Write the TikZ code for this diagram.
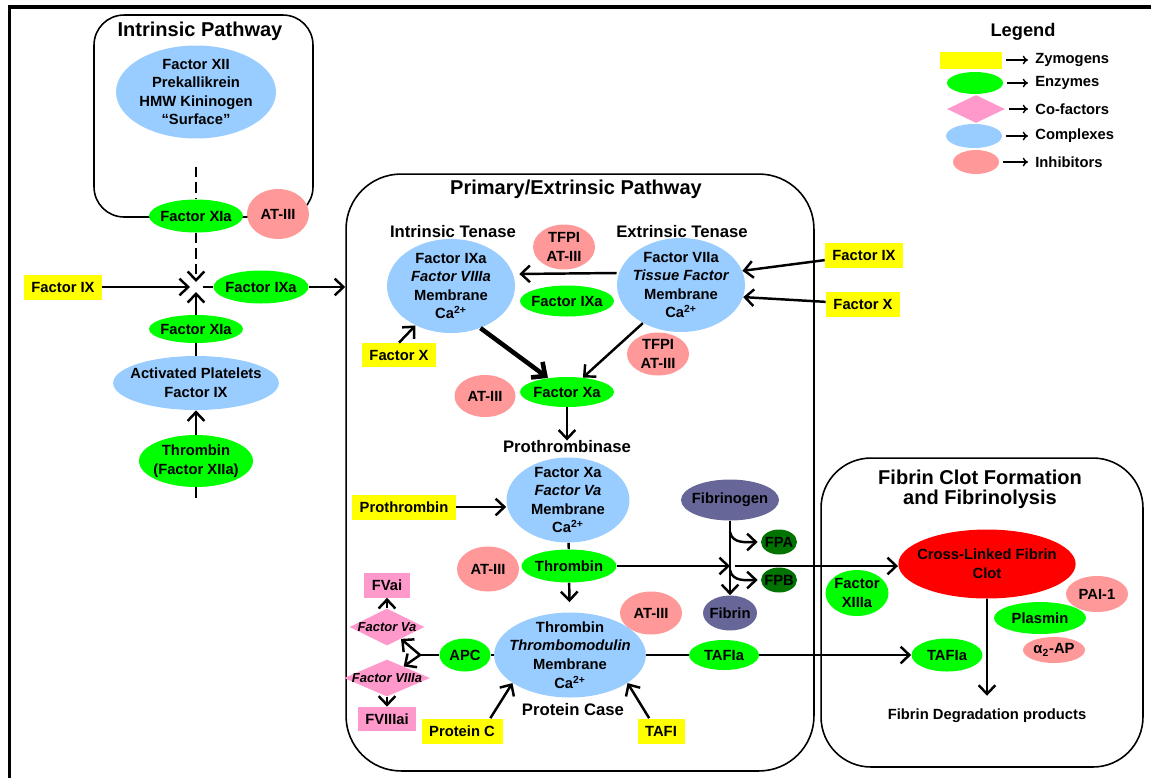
\documentclass[tikz,border=0pt]{standalone}
\usepackage{fontspec}
\setmainfont{Liberation Sans}
\usepackage{tikz}
\usetikzlibrary{arrows.meta, positioning, shapes.geometric}
\definecolor{zymoyellow}{RGB}{255,255,0}
\definecolor{enzgreen}{RGB}{0,255,0}
\definecolor{cofpink}{RGB}{255,153,204}
\definecolor{cplxblue}{RGB}{153,204,255}
\definecolor{inhpink}{RGB}{255,153,153}
\definecolor{fibpurple}{RGB}{102,102,153}
\definecolor{fpgreen}{RGB}{0,115,0}
\definecolor{clotred}{RGB}{255,0,0}

\begin{document}
\begin{tikzpicture}[x=0.02cm, y=-0.02cm,
    every node/.style={font=\fontsize{8.4}{10.6}\selectfont\bfseries, align=center, inner sep=0pt},
    blob/.style={ellipse, inner xsep=-4pt, inner ysep=-2pt},
    zymogen/.style={rectangle, fill=zymoyellow, minimum height=0.5cm},
    enzyme/.style={blob, fill=enzgreen},
    cplx/.style={blob, fill=cplxblue},
    inhib/.style={blob, fill=inhpink},
    fibr/.style={blob, fill=fibpurple},
    fpep/.style={blob, fill=fpgreen, minimum width=0.72cm, minimum height=0.5cm},
    cofactor/.style={diamond, fill=cofpink, font=\fontsize{7.4}{9}\selectfont\bfseries\itshape},
    inact/.style={rectangle, fill=cofpink, minimum height=0.5cm},
    pathbox/.style={rectangle, draw, line width=0.9pt, rounded corners=1cm},
    boxtitle/.style={font=\fontsize{11.4}{11.6}\selectfont\bfseries},
    subtitle/.style={font=\fontsize{9.5}{11}\selectfont\bfseries},
    link/.style={line width=1.4pt},
    arrow/.style={-{Straight Barb[length=5pt, width=9.5pt]}, line width=1.4pt},
    bigarrow/.style={-{Straight Barb[length=6pt, width=11pt]}, line width=2.6pt},
    dashlink/.style={link, dash pattern=on 6pt off 2.8pt},
    dasharrow/.style={arrow, dash pattern=on 6pt off 2.8pt},
    legarrow/.style={-{To[length=3pt, width=5pt]}, line width=0.8pt, shorten <=0.08cm, shorten >=0.14cm}
]
\useasboundingbox (0,0) rectangle (1151,778);
\draw [line width=1.8pt] (9.5,778) -- (9.5,7) -- (1151,7);

\node (intbox) [pathbox, rounded corners=0.6cm, minimum width=4.38cm, minimum height=4.04cm] at (203.5,116) {};
\node (primbox) [pathbox, rounded corners=1.1cm, minimum width=9.36cm, minimum height=11.94cm] at (580,472.5) {};
\node (fibbox) [pathbox, minimum width=6.44cm, minimum height=6.18cm] at (982,612.5) {};

\node (inttitle) [boxtitle] at (200,31) {Intrinsic Pathway};
\node (primtitle) [boxtitle] at (576,189) {Primary/Extrinsic Pathway};
\node (fibtitle) [boxtitle] at (980,489) {Fibrin Clot Formation\\and Fibrinolysis};
\node (legtitle) [font=\fontsize{10.4}{12}\selectfont\bfseries] at (1023,32) {Legend};

\node (contact) [cplx, minimum width=3.2cm, minimum height=1.86cm] at (196,92) {Factor XII\\Prekallikrein\\HMW Kininogen\\“Surface”};
\node (xia1) [enzyme, minimum width=1.88cm, minimum height=0.66cm] at (196,216) {Factor XIa};
\node (atiii1) [inhib, minimum width=1.24cm, minimum height=1cm] at (278,214) {AT-III};
\coordinate (junc) at (196,287);
\node (fix1) [zymogen, minimum width=1.56cm] at (63,287) {Factor IX};
\node (ixa1) [enzyme, minimum width=1.9cm, minimum height=0.66cm] at (261,287) {Factor IXa};
\node (xia2) [enzyme, minimum width=1.88cm, minimum height=0.56cm] at (196,329) {Factor XIa};
\node (platelets) [cplx, minimum width=3.24cm, minimum height=1.08cm] at (196,383) {Activated Platelets\\Factor IX};
\node (thrombin1) [enzyme, minimum width=2.28cm, minimum height=1.04cm] at (196,461) {Thrombin\\(Factor XIIa)};
\coordinate (thrtail) at (196,498);

\draw [dashlink, shorten <=0.56cm] (contact) -- (xia1);
\draw [dasharrow, shorten >=0.1cm] (xia1) -- (junc);
\draw [arrow, shorten >=0.12cm] (fix1) -- (junc);
\draw [link, shorten <=0.14cm] (junc) -- (ixa1);
\draw [arrow] (ixa1) -- (ixa1 -| primbox.west);
\draw [arrow, shorten >=0.1cm] (xia2) -- (junc);
\draw [link] (platelets) -- (xia2);
\draw [arrow] (thrombin1) -- (platelets);
\draw [link] (thrombin1) -- (thrtail);

\node (itlabel) [subtitle] at (453,232) {Intrinsic Tenase};
\node (etlabel) [subtitle] at (682,232) {Extrinsic Tenase};
\node (itenase) [cplx, minimum width=2.56cm, minimum height=1.88cm] at (451,286) {Factor IXa\\\textit{Factor VIIIa}\\Membrane\\Ca\textsuperscript{2+}};
\node (etenase) [cplx, minimum width=2.56cm, minimum height=1.88cm] at (681,285) {Factor VIIa\\\textit{Tissue Factor}\\Membrane\\Ca\textsuperscript{2+}};
\node (tfpi1) [inhib, minimum width=1.24cm, minimum height=0.9cm] at (564,247) {TFPI\\AT-III};
\node (ixa2) [enzyme, minimum width=1.88cm, minimum height=0.62cm] at (567,301) {Factor IXa};
\node (fx1) [zymogen, minimum width=1.48cm, minimum height=0.48cm] at (399,355) {Factor X};
\node (tfpi2) [inhib, minimum width=1.24cm, minimum height=0.86cm] at (658,354) {TFPI\\AT-III};
\node (atiii2) [inhib, minimum width=1.22cm, minimum height=0.84cm] at (485,396) {AT-III};
\node (xa) [enzyme, minimum width=1.88cm, minimum height=0.6cm] at (567,392) {Factor Xa};
\node (ptlabel) [subtitle] at (567,447) {Prothrombinase};
\node (fix2) [zymogen, minimum width=1.56cm] at (864,255) {Factor IX};
\node (fx2) [zymogen, minimum width=1.48cm] at (863,304) {Factor X};

\draw [arrow] (fix2) -- (etenase.13);
\draw [arrow] (fx2) -- (etenase.349);
\draw [arrow, shorten >=0.08cm] ([yshift=0.24cm]etenase.west) -- ([yshift=0.24cm]itenase.east);
\draw [arrow] (fx1.north) -- (itenase.228);
\draw [bigarrow] (itenase.305) -- (xa);
\draw [arrow] (etenase.225) -- (xa);
\draw [arrow] (xa) -- (ptlabel);

\node (proth) [cplx, minimum width=2.46cm, minimum height=1.7cm] at (568,500) {Factor Xa\\\textit{Factor Va}\\Membrane\\Ca\textsuperscript{2+}};
\node (prothrombin) [zymogen, minimum width=2.08cm] at (404,507) {Prothrombin};
\node (thrombin2) [enzyme, minimum width=1.9cm, minimum height=0.66cm] at (569,566) {Thrombin};
\node (atiii3) [inhib, minimum width=1.24cm, minimum height=0.9cm] at (488,569) {AT-III};
\node (fibgen) [fibr, minimum width=1.96cm, minimum height=0.82cm] at (730,500) {Fibrinogen};
\node (fibrin) [fibr, minimum width=1.08cm, minimum height=0.7cm] at (730,613) {Fibrin};
\node (fpa) [fpep] at (779,542) {FPA};
\node (fpb) [fpep] at (779,580) {FPB};
\coordinate (fibjoin) at (thrombin2 -| fibrin);
\coordinate (fpasplit) at (730,532);
\coordinate (fpbsplit) at (730,570);

\node (tmod) [cplx, minimum width=2.94cm, minimum height=1.7cm] at (570,655) {Thrombin\\\textit{Thrombomodulin}\\Membrane\\Ca\textsuperscript{2+}};
\node (pclabel) [subtitle] at (573,710) {Protein Case};
\node (atiii4) [inhib, minimum width=1.24cm, minimum height=0.86cm] at (651,613) {AT-III};
\node (apc) [enzyme, minimum width=1.02cm, minimum height=0.66cm] at (465,655) {APC};
\coordinate (apcsplit) at (420,655);
\node (fva) [cofactor, minimum width=1.5cm, minimum height=0.74cm] at (387,627) {\makebox[0pt]{Factor Va}};
\node (fviiia) [cofactor, minimum width=1.72cm, minimum height=0.74cm] at (387,678) {\makebox[0pt]{Factor VIIIa}};
\node (fvai) [inact, minimum width=0.92cm] at (387,585) {FVai};
\node (fviiiai) [inact, minimum width=1.16cm, minimum height=0.48cm] at (387,719) {FVIIIai};
\node (proteinc) [zymogen, minimum width=1.62cm] at (462,731) {Protein C};
\node (tafi) [zymogen, minimum width=0.94cm] at (661,731) {TAFI};
\node (tafia1) [enzyme, minimum width=1.4cm, minimum height=0.6cm] at (724,655) {TAFIa};

\node (clot) [blob, fill=clotred, minimum width=3.5cm, minimum height=1.38cm] at (987,564) {Cross-Linked Fibrin\\Clot};
\node (f13) [enzyme, minimum width=1.26cm, minimum height=0.92cm] at (857,593) {Factor\\XIIIa};
\node (pai) [inhib, minimum width=1.24cm, minimum height=0.72cm] at (1097,594) {PAI-1};
\node (plasmin) [enzyme, minimum width=1.84cm, minimum height=0.64cm] at (1040,618) {Plasmin};
\node (a2ap) [inhib, minimum width=1.24cm, minimum height=0.52cm] at (1054,650) {α\textsubscript{2}-AP};
\node (tafia2) [enzyme, minimum width=1.42cm, minimum height=0.66cm] at (947,655) {TAFIa};
\node (fdp) at (987,716) {Fibrin Degradation products};

\draw [arrow] (prothrombin) -- (prothrombin -| proth.west);
\draw [link] (proth) -- (thrombin2);
\draw [arrow, shorten >=0.2cm] (thrombin2) -- (tmod);
\draw [arrow] (fibgen) -- (fibrin);
\draw [arrow] (thrombin2) -- (fibjoin);
\draw [arrow, shorten <=0.1cm] (fibjoin) -- (fibjoin -| clot.west);
\draw [arrow, shorten >=0.06cm] (fpasplit) to[out=-80, in=180] (fpa);
\draw [arrow, shorten >=0.06cm] (fpbsplit) to[out=-80, in=180] (fpb);
\draw [link] (tmod) -- (apc);
\draw [link] (apc) -- (apcsplit);
\draw [arrow] (apcsplit) -- (fva);
\draw [arrow] (apcsplit) -- (fviiia);
\draw [arrow] (fva) -- (fvai);
\draw [arrow] (fviiia) -- (fviiiai);
\draw [arrow] ([xshift=-0.25cm]proteinc.north east) -- (tmod.206);
\draw [arrow] ([xshift=0.24cm]tafi.north west) -- (tmod.334);
\draw [link] (tmod) -- (tafia1);
\draw [arrow] (tafia1) -- (tafia2);
\draw [arrow, shorten >=0.26cm] (clot) -- (fdp);

\node (legzym) [rectangle, fill=zymoyellow, minimum width=1.24cm, minimum height=0.34cm] at (971,60) {};
\node (legenz) [enzyme, minimum width=1.12cm, minimum height=0.44cm] at (975,83) {};
\node (legcof) [diamond, fill=cofpink, minimum width=1.16cm, minimum height=0.56cm] at (976,109) {};
\node (legcpx) [cplx, minimum width=1.12cm, minimum height=0.48cm] at (974,136) {};
\node (leginh) [inhib, minimum width=0.92cm, minimum height=0.48cm] at (976,162) {};
\node (zymtext) [anchor=west] at (1035,60) {Zymogens};
\node (enztext) [anchor=west] at (1035,83) {Enzymes};
\node (coftext) [anchor=west] at (1035,109) {Co-factors};
\node (cpxtext) [anchor=west] at (1035,136) {Complexes};
\node (inhtext) [anchor=west] at (1035,162) {Inhibitors};
\draw [legarrow] (legzym.east) -- (zymtext.west);
\draw [legarrow] (legenz.east) -- (enztext.west);
\draw [legarrow] (legcof.east) -- (coftext.west);
\draw [legarrow] (legcpx.east) -- (cpxtext.west);
\draw [legarrow] (leginh.east) -- (inhtext.west);
\end{tikzpicture}
\end{document}
